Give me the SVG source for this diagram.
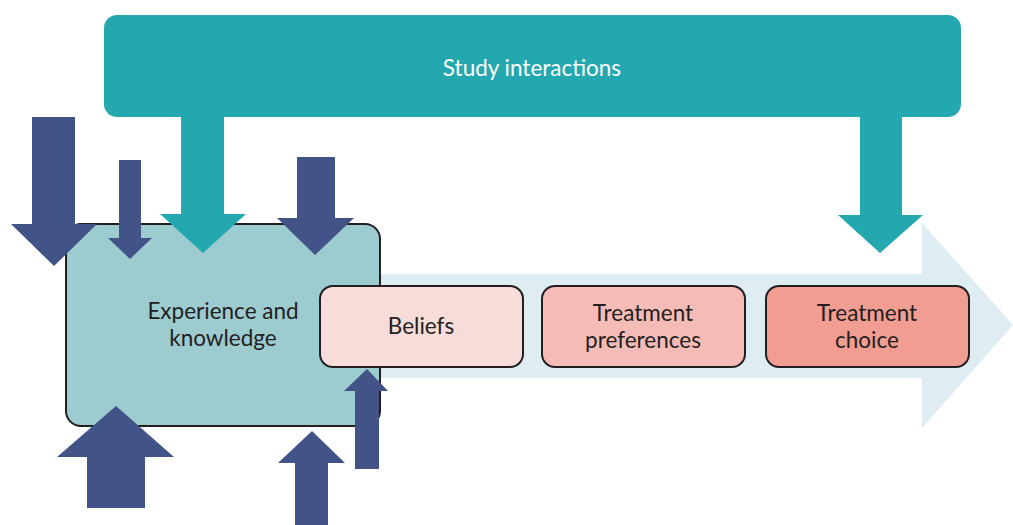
<svg xmlns="http://www.w3.org/2000/svg" width="1013" height="525" viewBox="0 0 1013 525">
  <style>
    .lbl { font-family: Lato, "Open Sans", "Liberation Sans", sans-serif; font-size: 22.5px; fill: #231f20; text-anchor: middle; }
    .box { stroke: #231f20; stroke-width: 2; }
    .navy { fill: #425487; }
    .teal { fill: #23a8b0; }
  </style>

  <!-- background flow arrow -->
  <g id="flow">
    <polygon points="370,274 922,274 922,223 1013,325 922,428 922,378 370,378" fill="#deedf1"/>
  </g>

  <!-- top banner -->
  <g id="study-interactions">
    <rect x="104" y="15" width="857" height="102" rx="13" class="teal"/>
    <text x="532" y="76" class="lbl" style="fill:#ffffff">Study interactions</text>
  </g>

  <g id="experience">
    <rect x="66" y="224" width="314" height="202" rx="15" fill="#9ccbd0" class="box"/>
    <text x="223" y="319" class="lbl">Experience and</text>
    <text x="223" y="346" class="lbl">knowledge</text>
  </g>

  <g id="beliefs">
    <rect x="320" y="286" width="203" height="81" rx="13" fill="#f8dcda" class="box"/>
    <text x="421" y="334" class="lbl">Beliefs</text>
  </g>

  <g id="preferences">
    <rect x="542" y="286" width="203" height="81" rx="13" fill="#f5bbb6" class="box"/>
    <text x="643" y="321" class="lbl">Treatment</text>
    <text x="643" y="348" class="lbl">preferences</text>
  </g>

  <g id="choice">
    <rect x="766" y="286" width="203" height="81" rx="13" fill="#f29d92" class="box"/>
    <text x="867" y="321" class="lbl">Treatment</text>
    <text x="867" y="348" class="lbl">choice</text>
  </g>

  <!-- block arrows -->
  <g id="connectors">
    <!-- from study interactions -->
    <polygon class="teal" points="181,117 224,117 224,214 246,214 203,253 160,214 181,214"/>
    <polygon class="teal" points="860,117 902,117 902,215 923,215 880,253 838,215 860,215"/>

    <!-- downward influences -->
    <polygon class="navy" points="32,117 75,117 75,224 97,224 54,266 11,224 32,224"/>
    <polygon class="navy" points="119,160 141,160 141,238 152,238 130,259 108,238 119,238"/>
    <polygon class="navy" points="297,157 335,157 335,218 354,218 315,255 277,218 297,218"/>

    <!-- upward influences -->
    <polygon class="navy" points="87,508 145,508 145,457 174,457 116,406 57,457 87,457"/>
    <polygon class="navy" points="295,525 328,525 328,463 345,463 312,431 278,463 295,463"/>
    <polygon class="navy" points="355,469 379,469 379,391 388,391 367,369 344,391 355,391"/>
  </g>
</svg>
